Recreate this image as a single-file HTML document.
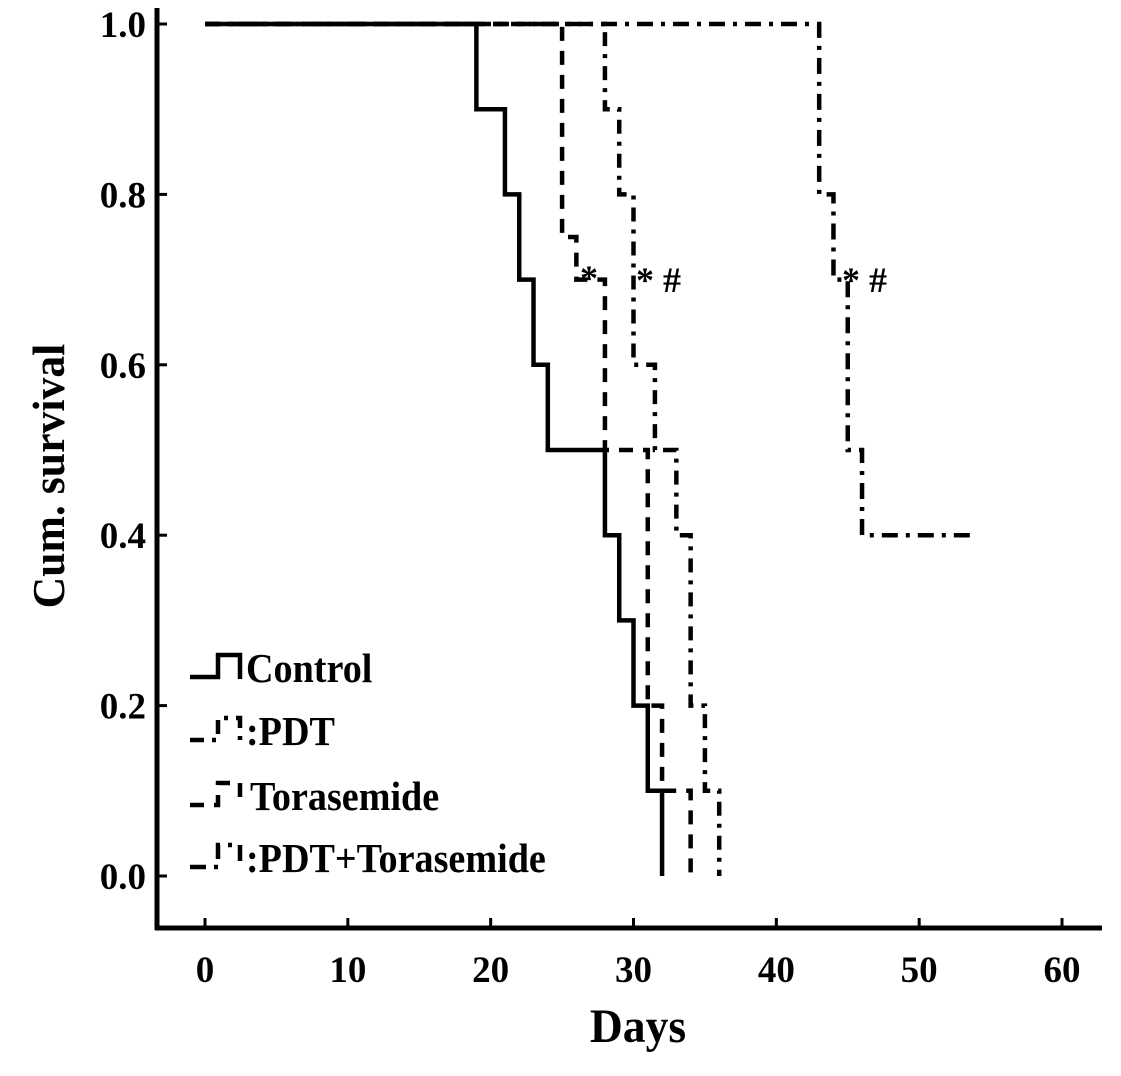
<!DOCTYPE html>
<html><head><meta charset="utf-8"><style>
html,body{margin:0;padding:0;background:#fff;}
svg{display:block;font-family:"Liberation Serif",serif;font-weight:bold;}
</style></head><body>
<svg id="chart" width="1121" height="1076" viewBox="0 0 1121 1076" xmlns="http://www.w3.org/2000/svg">
<g id="axes"></g>
<g id="series"></g>
<g font-size="36">
<text x="580" y="290">*</text>
<text x="636" y="292">* #</text>
<text x="842" y="292">* #</text>
</g>
<text x="638" y="1042" font-size="48" text-anchor="middle" transform="translate(638,0) scale(0.95,1) translate(-638,0)">Days</text>
<text transform="translate(64,476) rotate(-90) scale(0.95,1)" font-size="46" text-anchor="middle">Cum. survival</text>
<g id="legend" font-size="41"></g>
</svg>
<script>
const xTicks=[0,10,20,30,40,50,60];
const yTicks=[0.0,0.2,0.4,0.6,0.8,1.0];
const seriesNames=["Control","PDT","Torasemide","PDT+Torasemide"];
const controlTimes=[0,19,21,22,23,24,28,29,30,31,32];
const controlSurv=[1.0,0.9,0.8,0.7,0.6,0.5,0.4,0.3,0.2,0.1,0.0];
const pdtTimes=[0,28,29,30,31,31.5,33,34,35,36];
const pdtSurv=[1.0,0.9,0.8,0.6,0.6,0.5,0.4,0.2,0.1,0.0];
const torTimes=[0,25,26,28,31,32,34];
const torSurv=[1.0,0.75,0.7,0.5,0.2,0.1,0.0];
const comboTimes=[0,43,44,45,46,54];
const comboSurv=[1.0,0.8,0.7,0.5,0.4,0.4];

const NS="http://www.w3.org/2000/svg";
const X=d=>205+d*(1062-205)/60;
const Y=s=>876-s*852;
function mk(tag,attrs,parent){const e=document.createElementNS(NS,tag);for(const k in attrs)e.setAttribute(k,attrs[k]);parent.appendChild(e);return e;}
const axes=document.getElementById('axes');
const a1=mk('path',{d:'M157,8 V930 M155,928 H1102',stroke:'#000','stroke-width':5,fill:'none'},axes);


xTicks.forEach(t=>{
 const l=mk('line',{x1:X(t),x2:X(t),y1:918,y2:928,stroke:'#000','stroke-width':3},axes);
 
 
 const tx=mk('text',{x:X(t),y:982,'font-size':37,'text-anchor':'middle'},axes);tx.textContent=t;
 
 
});
yTicks.forEach(t=>{
 const l=mk('line',{x1:157,x2:167,y1:Y(t),y2:Y(t),stroke:'#000','stroke-width':3},axes);
 
 
 const tx=mk('text',{x:146,y:Y(t)+13,'font-size':37,'text-anchor':'end'},axes);tx.textContent=t.toFixed(1);
 
 
});
const styles=[
 {dash:'none',w:4.5},
 {dash:'14 8 4 8',w:4.5},
 {dash:'14 10',w:4.5},
 {dash:'16 8 4 8',w:4.5}];
const data=[[controlTimes,controlSurv],[pdtTimes,pdtSurv],[torTimes,torSurv],[comboTimes,comboSurv]];
const sg=document.getElementById('series');
data.forEach((d,i)=>{
 const [t,s]=d;let p='M'+X(t[0])+','+Y(s[0]);
 for(let k=1;k<t.length;k++){p+=' H'+X(t[k])+' V'+Y(s[k]);}
 const e=mk('path',{d:p,fill:'none',stroke:'#000','stroke-width':styles[i].w,'stroke-dasharray':styles[i].dash},sg);
 
 
});
const lg=document.getElementById('legend');
const ly=[667,730,795,857];
seriesNames.forEach((n,i)=>{
 const y=ly[i];
 const sym=mk('path',{d:'M190,'+(y+10)+' H218 V'+(y-12)+' H240 V'+(y+12),fill:'none',stroke:'#000','stroke-width':4.5,'stroke-dasharray':styles[i].dash},lg);
 
 
 const tx=mk('text',{x:i==2?250:246,y:y+15,transform:'translate('+(i==2?250:246)+',0) scale(0.93,1) translate('+(-(i==2?250:246))+',0)'},lg);tx.textContent=(i==1||i==3?':':'')+n;
 
 
});
</script>
</body></html>
